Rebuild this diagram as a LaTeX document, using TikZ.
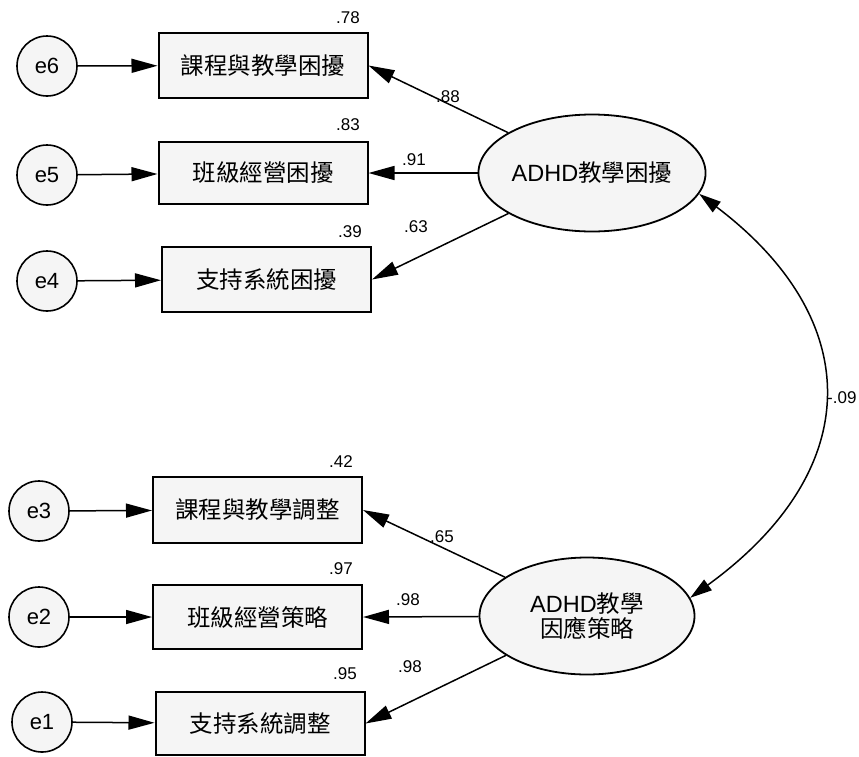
\documentclass[tikz,border=0pt]{standalone}
\usepackage{fontspec}
\setmainfont{Liberation Sans}
\newfontfamily\cjk{Noto Sans CJK TC}
\usetikzlibrary{arrows.meta,shapes.geometric}

\begin{document}
\begin{tikzpicture}[x=1pt,y=-1pt,
    err/.style={draw,circle,line width=1.6pt,fill=black!4,minimum size=60pt,inner sep=0pt,font=\fontsize{22}{24}\selectfont},
    obs/.style={draw,rectangle,line width=2pt,fill=black!4,minimum width=209pt,minimum height=65pt,inner sep=0pt,font=\fontsize{23.5}{26}\selectfont\cjk},
    lat/.style={draw,ellipse,line width=1.8pt,fill=black!4,minimum width=215pt,minimum height=117pt,inner sep=0pt,align=center,font=\fontsize{23.5}{25}\selectfont},
    coef/.style={font=\fontsize{17}{19}\selectfont},
    load/.style={-{Triangle[length=26pt,width=14pt]},line width=1.5pt}]
    \useasboundingbox (0,0) rectangle (859,756);

    \node[lat] (f1) at (592,173) {ADHD{\cjk 教學困擾}};
    \node[lat] (f2) at (587,616) {ADHD{\cjk 教學}\\{\cjk 因應策略}};

    \node[obs] (b1) at (263,65.5) {課程與教學困擾};
    \node[obs,minimum height=62pt] (b2) at (263,173) {班級經營困擾};
    \node[obs] (b3) at (266.5,279.5) {支持系統困擾};
    \node[obs,minimum height=66pt] (b4) at (257.5,510) {課程與教學調整};
    \node[obs,minimum height=64pt] (b5) at (257.5,617) {班級經營策略};
    \node[obs,minimum height=63pt] (b6) at (260,723.5) {支持系統調整};

    \node[err] (e6) at (47,66) {e6};
    \node[err] (e5) at (47,175) {e5};
    \node[err] (e4) at (47,281) {e4};
    \node[err] (e3) at (39,511) {e3};
    \node[err] (e2) at (39,617) {e2};
    \node[err] (e1) at (42,722) {e1};

    \draw[load] (e6) -- (b1);
    \draw[load] (e5) -- (b2);
    \draw[load] (e4) -- (b3);
    \draw[load] (e3) -- (b4);
    \draw[load] (e2) -- (b5);
    \draw[load] (e1) -- (b6);

    \draw[load] (f1) -- (b1.east);
    \draw[load] (f1) -- (b2.east);
    \draw[load] (f1) -- (b3.east);
    \draw[load] (f2) -- (b4.east);
    \draw[load] (f2) -- (b5.east);
    \draw[load] (f2) -- (b6.east);

    \draw[{Triangle[length=22pt,width=13pt]}-{Triangle[length=22pt,width=13pt]},line width=1.5pt]
        (f1.-11) .. controls (866,320) and (866,470) .. (f2.10);

    \node[coef] (r6) at (348,18) {.78};
    \node[coef] (r5) at (348,125) {.83};
    \node[coef] (r4) at (350,232) {.39};
    \node[coef] (r3) at (341,462) {.42};
    \node[coef] (r2) at (341,569) {.97};
    \node[coef] (r1) at (345,674) {.95};

    \node[coef] (l1) at (448,97) {.88};
    \node[coef] (l2) at (414,160) {.91};
    \node[coef] (l3) at (416,227) {.63};
    \node[coef] (l4) at (442,537) {.65};
    \node[coef] (l5) at (408,600) {.98};
    \node[coef] (l6) at (410,667) {.98};

    \node[coef,right,inner sep=0pt] (cr) at (827,398) {-.09};
\end{tikzpicture}
\end{document}
